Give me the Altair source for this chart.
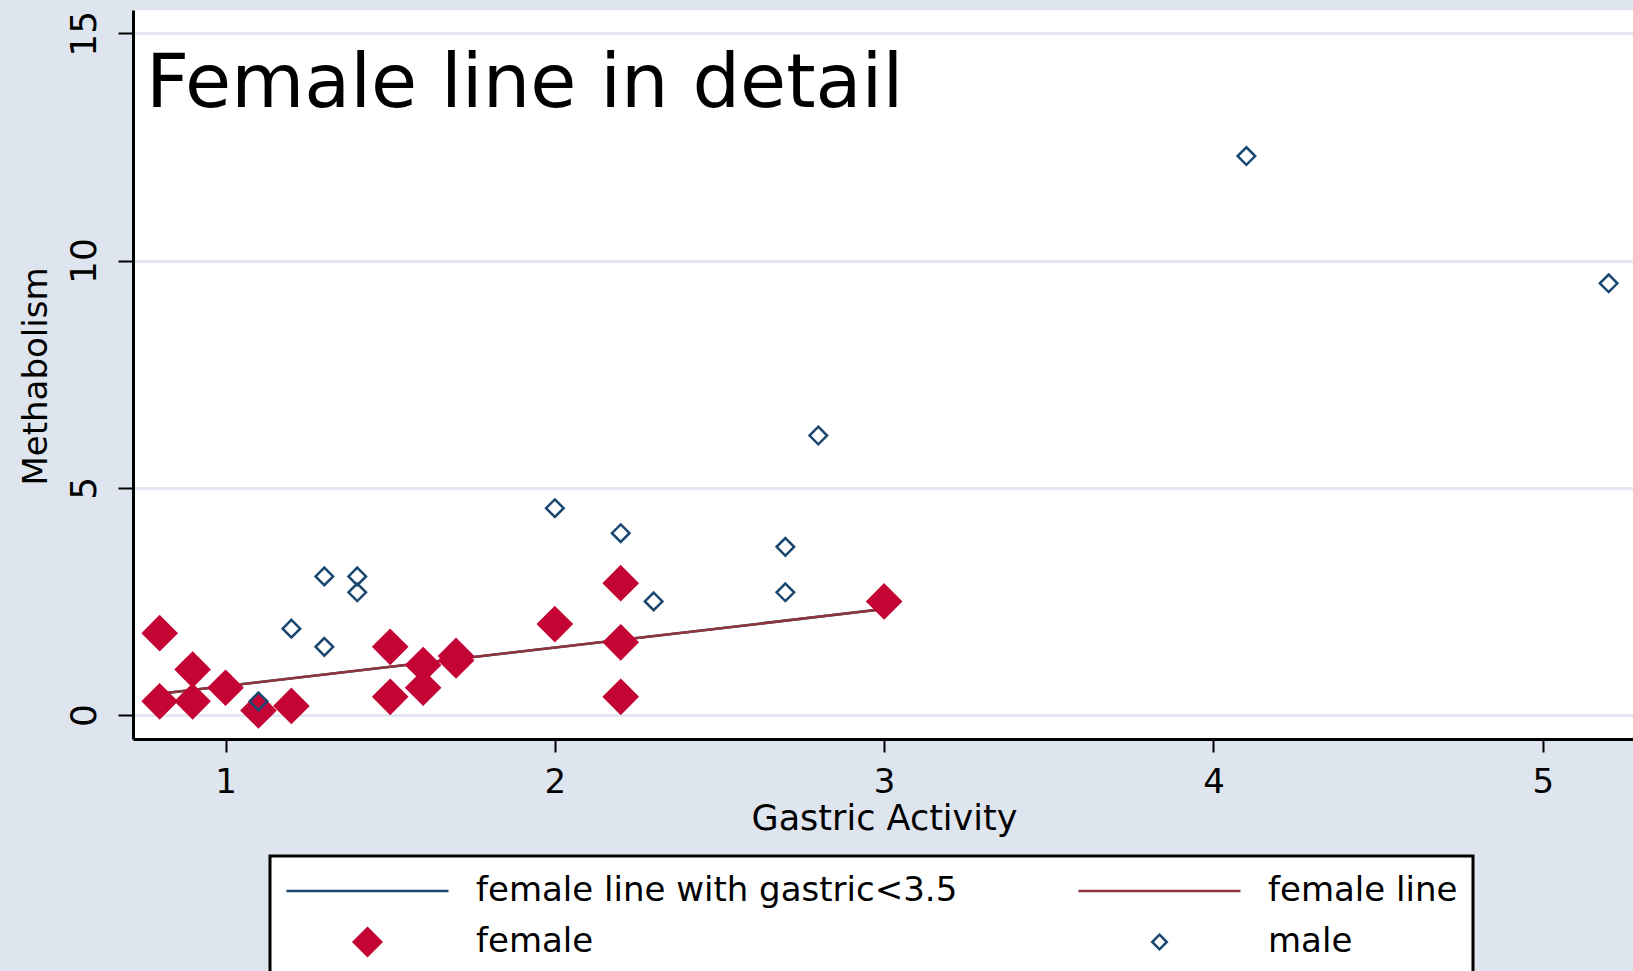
import altair as alt
import pandas as pd

# ---- data ----
female_x = [0.8, 0.8, 0.9, 0.9, 1.0, 1.1, 1.2, 1.5, 1.5, 1.6, 1.6, 1.7, 1.7, 2.0, 2.2, 2.2, 2.2, 3.0]
female_y = [1.8, 0.3, 1.0, 0.3, 0.6, 0.1, 0.2, 1.5, 0.4, 1.1, 0.6, 1.3, 1.2, 2.0, 2.9, 1.6, 0.4, 2.5]

male_x = [1.1, 1.2, 1.3, 1.3, 1.4, 1.4, 2.0, 2.2, 2.3, 2.7, 2.7, 2.8, 4.1, 5.2]
male_y = [0.3, 1.9, 3.05, 1.5, 3.05, 2.7, 4.55, 4.0, 2.5, 3.7, 2.7, 6.15, 12.3, 9.5]

# fitted lines (the gastric<3.5 fit lies exactly under the full female fit)
fit_x = [0.8, 3.0]
fit_lt35_y = [0.47, 2.33]
fit_all_y = [0.47, 2.33]

series_names = ["female line with gastric<3.5", "female line", "female", "male"]

# ---- styles ----
NAVY = "#1a476f"
MAROON = "#90353b"
CRANBERRY = "#c30434"
stroke_colors = [NAVY, MAROON, CRANBERRY, NAVY]
fill_colors = ["transparent", "transparent", CRANBERRY, "transparent"]
shapes = [
    "M-1,0L1,0",
    "M-1,0L1,0",
    "M0,-0.17L0.17,0L0,0.17L-0.17,0Z",
    "M0,-0.09L0.09,0L0,0.09L-0.09,0Z",
]

points = pd.DataFrame({
    "x": female_x + male_x,
    "y": female_y + male_y,
    "series": ["female"] * len(female_x) + ["male"] * len(male_x),
})
lines = pd.DataFrame({
    "x": fit_x + fit_x,
    "y": fit_lt35_y + fit_all_y,
    "series": [series_names[0]] * len(fit_x) + [series_names[1]] * len(fit_x),
})

FONT = "DejaVu Sans"

xscale = alt.Scale(domain=[0.719, 5.274], nice=False, zero=False)
yscale = alt.Scale(domain=[-0.528, 15.513], nice=False, zero=False)

x_axis = alt.Axis(
    values=[1, 2, 3, 4, 5], format="d", grid=False, tickSize=13,
    labelFontSize=34, labelBaseline="alphabetic", labelPadding=40, labelFlush=False,
    title="Gastric Activity", titleFontSize=35, titleBaseline="alphabetic",
    titleAlign="center", titleX=751, titleY=90,
)
y_axis = alt.Axis(
    values=[0, 5, 10, 15], format="d", grid=True, tickSize=15,
    labelAngle=270, labelAlign="center", labelBaseline="alphabetic",
    labelPadding=23, labelFontSize=36, labelFlush=False,
    title="Methabolism", titleAngle=270, titleFontSize=34,
    titleBaseline="alphabetic", titleAlign="center", titleX=-87, titleY=366,
)

stroke_scale = alt.Scale(domain=series_names, range=stroke_colors)
fill_scale = alt.Scale(domain=series_names, range=fill_colors)
shape_scale = alt.Scale(domain=series_names, range=shapes)

line_layer = alt.Chart(lines).mark_line(strokeWidth=2.5).encode(
    x=alt.X("x:Q", scale=xscale, axis=x_axis),
    y=alt.Y("y:Q", scale=yscale, axis=y_axis),
    stroke=alt.Stroke("series:N", scale=stroke_scale, title=None),
    detail="series:N",
)

point_layer = alt.Chart(points).mark_point(
    filled=True, size=38000, strokeWidth=2.5, opacity=1
).encode(
    x=alt.X("x:Q", scale=xscale, axis=x_axis),
    y=alt.Y("y:Q", scale=yscale, axis=y_axis),
    color=alt.Color("series:N", scale=fill_scale, title=None),
    stroke=alt.Stroke("series:N", scale=stroke_scale, title=None),
    shape=alt.Shape("series:N", scale=shape_scale, title=None),
)

chart = alt.layer(line_layer, point_layer).properties(
    width=1500,
    height=729,
    autosize=alt.AutoSizeParams(type="none"),
    padding={"left": 133, "top": 10, "right": 0, "bottom": 232},
    title=alt.TitleParams(
        "Female line in detail", anchor="start", frame="group", orient="top",
        offset=0, dx=13, dy=172, baseline="alphabetic", font=FONT,
        fontSize=75, fontWeight="normal", color="black",
    ),
).configure(
    background="#dfe5ef",
    font=FONT,
).configure_view(
    fill="white", strokeWidth=0,
).configure_axis(
    domainColor="black", domainWidth=3, tickColor="black", tickWidth=2,
    labelColor="black", labelFont=FONT, titleFont=FONT, titleColor="black",
    titleFontWeight="normal", gridColor="#e2e7f1", gridWidth=3,
).configure_legend(
    orient="none", legendX=137, legendY=846, columns=2, direction="horizontal",
    fillColor="white", strokeColor="black", strokeWidth=3, padding=15,
    labelFont=FONT, labelFontSize=34, labelColor="black", labelOffset=26,
    labelLimit=1000, symbolSize=26244, symbolStrokeWidth=2.5,
    columnPadding=119, rowPadding=11, clipHeight=40, cornerRadius=0,
)

chart.save("out.html", embed_options={"renderer": "svg", "actions": False})
